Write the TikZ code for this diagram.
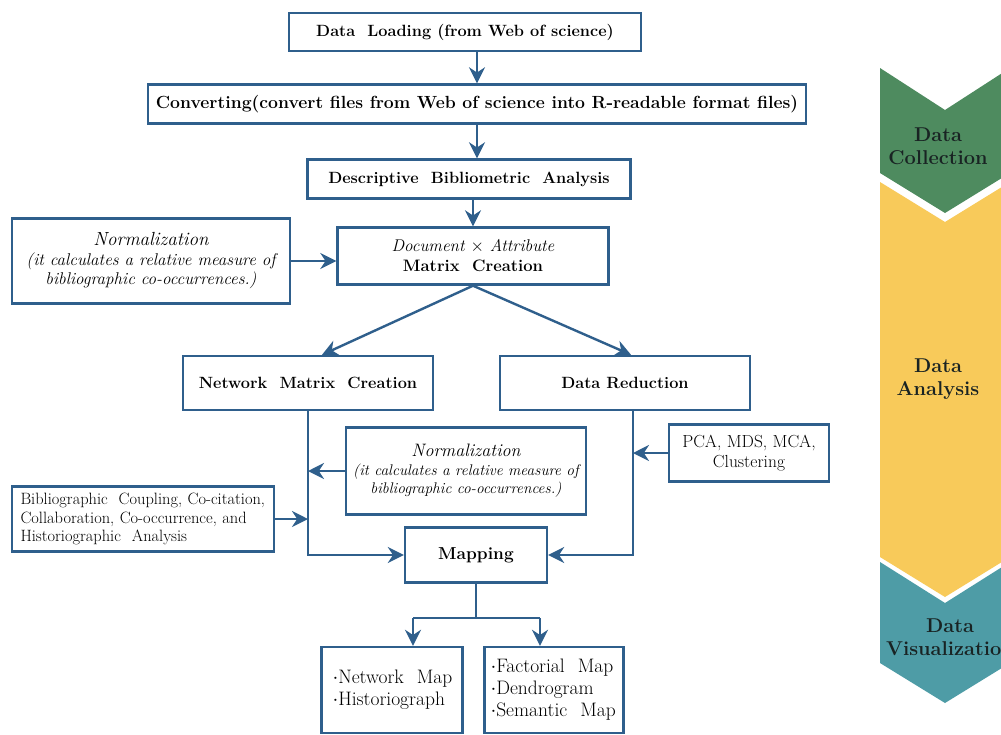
\documentclass[tikz,border=0pt]{standalone}
\usepackage{fontspec}
\usetikzlibrary{arrows.meta,calc}
\definecolor{lc}{RGB}{47,95,140}
\definecolor{cgreen}{RGB}{78,139,95}
\definecolor{cyellow}{RGB}{248,202,90}
\definecolor{cteal}{RGB}{78,156,166}
\definecolor{ctext}{RGB}{25,35,35}
\begin{document}
\begin{tikzpicture}[x=1pt,y=-1pt,
  box/.style={draw=lc, line width=2.4pt, fill=white, inner sep=0pt, align=center, font=\fontsize{17}{20}\selectfont},
  bbox/.style={box, font=\fontsize{16.3}{19}\selectfont\bfseries},
  ibox/.style={box, font=\fontsize{17}{19.5}\selectfont\itshape},
  arr/.style={draw=lc, line width=2.4pt, -{Stealth[length=16pt,width=16pt]}},
  ln/.style={draw=lc, line width=2.4pt},
  phase/.style={font=\fontsize{20}{23}\selectfont\bfseries, text=ctext, align=center}]
\useasboundingbox (0,0) rectangle (1001,734);
\fill[white] (0,0) rectangle (1001,734);
% phase chevrons
\fill[cgreen] (880,68) -- (945,110) -- (1010,68) -- (1010,173) -- (945,213) -- (880,173) -- cycle;
\fill[cyellow] (880,182) -- (945,222) -- (1010,182) -- (1010,557) -- (945,597) -- (880,557) -- cycle;
\fill[cteal] (880,562) -- (945,603) -- (1010,562) -- (1010,663) -- (945,703) -- (880,663) -- cycle;
\node[phase] (pc) at (938,146) {Data\\Collection};
\node[phase] (pa) at (938,379) {Data\\Analysis};
\node[phase] (pv) at (950,637) {Data\\Visualization};
% boxes
\node[bbox, minimum width=352pt, minimum height=38pt] (load) at (465,32) {Data~ Loading (from Web of science)};
\node[bbox, minimum width=658pt, minimum height=39pt, font=\fontsize{17.6}{20}\selectfont\bfseries] (conv) at (477,104) {Converting(convert files from Web of science into R-readable format files)};
\node[bbox, minimum width=323pt, minimum height=39pt] (desc) at (469,179) {Descriptive~ Bibliometric~ Analysis};
\node[box, minimum width=271pt, minimum height=57pt] (mat) at (473,256) {\itshape Document $\times$ Attribute\\\fontsize{16.6}{20}\selectfont\bfseries Matrix~ Creation};
\node[ibox, minimum width=278pt, minimum height=85pt] (norm1) at (151,261) {{\fontsize{19}{21}\selectfont Normalization}\\(it calculates a relative measure of\\bibliographic co-occurrences.)};
\node[bbox, minimum width=250pt, minimum height=54pt] (net) at (308,383) {Network~ Matrix~ Creation};
\node[bbox, minimum width=250pt, minimum height=54pt] (red) at (625,383) {Data Reduction};
\node[ibox, minimum width=240pt, minimum height=87pt, font=\fontsize{15.4}{18.5}\selectfont\itshape] (norm2) at (466,471) {{\fontsize{18}{21}\selectfont Normalization}\\(it calculates a relative measure of\\bibliographic co-occurrences.)};
\node[box, minimum width=262pt, minimum height=65pt, align=left, text width=245pt, inner xsep=8.5pt, font=\fontsize{16.4}{18.5}\selectfont] (bib) at (143,519) {Bibliographic~ Coupling, Co-citation,\\Collaboration, Co-occurrence, and\\Historiographic~ Analysis};
\node[box, minimum width=160pt, minimum height=57pt, font=\fontsize{17.5}{20}\selectfont] (pca) at (749,453) {PCA, MDS, MCA,\\Clustering};
\node[bbox, minimum width=142pt, minimum height=55pt, font=\fontsize{17.3}{20}\selectfont\bfseries] (map) at (476,555) {Mapping};
\node[box, minimum width=141pt, minimum height=86pt, align=left, text width=119pt, inner xsep=11pt, font=\fontsize{19.5}{22}\selectfont] (nm) at (392,690) {$\cdot$Network~ Map\\$\cdot$Historiograph};
\node[box, minimum width=139pt, minimum height=86pt, align=left, text width=127pt, inner xsep=6pt, font=\fontsize{19.5}{22}\selectfont] (fm) at (554,690) {$\cdot$Factorial~ Map\\$\cdot$Dendrogram\\$\cdot$Semantic~ Map};
% connectors
\draw[arr] (load.south -| 477,0) -- (conv.north -| 477,0);
\draw[arr] (conv.south -| 477,0) -- (desc.north -| 477,0);
\draw[arr] (desc.south -| mat.south) -- (mat.north);
\draw[arr] (norm1.east) -- (mat.west |- norm1.east);
\draw[arr] (mat.south) -- ($(net.north)+(14,0)$);
\draw[arr] (mat.south) -- ($(red.north)+(6,0)$);
\draw[arr] (net.south) |- (map.west);
\coordinate (rv) at ($(red.south)+(8,0)$);
\draw[arr] (rv) |- (map.east);
\draw[arr] (norm2.west) -- (net.south |- norm2.west);
\draw[arr] (bib.east) -- (net.south |- bib.east);
\draw[arr] (pca.west) -- (rv |- pca.west);
\coordinate (jn) at (476,618);
\coordinate (jl) at (413,618);
\coordinate (jr) at (540,618);
\draw[ln] (map.south) -- (jn);
\draw[ln] (jl) -- (jr);
\draw[arr] (jl) -- (jl |- nm.north);
\draw[arr] (jr) -- (jr |- fm.north);
\end{tikzpicture}
\end{document}
